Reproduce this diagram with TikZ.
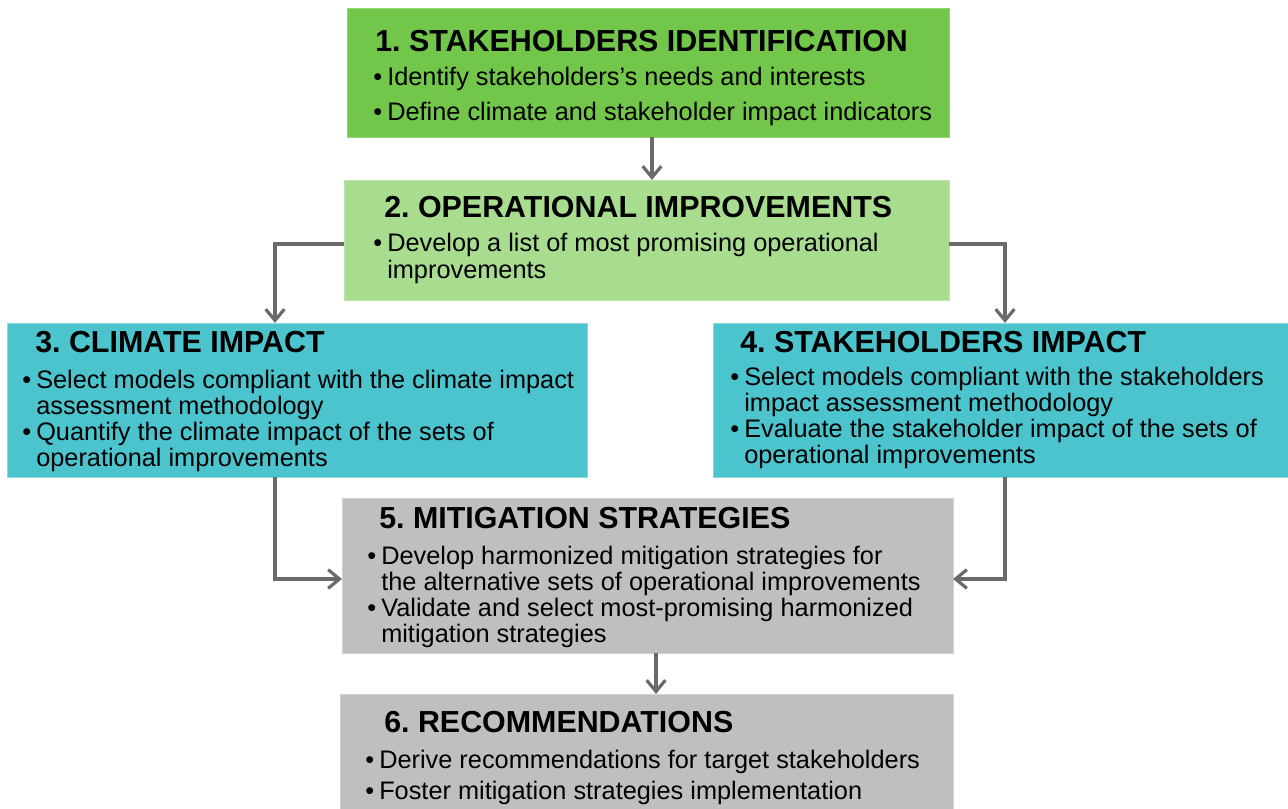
\documentclass[tikz,border=0pt]{standalone}
\usepackage{fontspec}
\setmainfont{Liberation Sans}
\usetikzlibrary{arrows.meta}
\definecolor{gA}{HTML}{72C74A}
\definecolor{gB}{HTML}{A8DD8F}
\definecolor{cy}{HTML}{4BC4CD}
\definecolor{gr}{HTML}{BFBFBF}
\definecolor{ar}{HTML}{6A6A6A}
\newcommand{\bul}{\makebox[10.5pt][l]{\textbullet}}
\newcommand{\ind}{\hspace*{10.5pt}}
\begin{document}
\frenchspacing
\begin{tikzpicture}[x=0.75pt,y=-0.75pt,
  ttl/.style={anchor=base west,inner sep=0,font=\fontsize{22.8}{24}\selectfont\bfseries},
  bdy/.style={anchor=base west,inner sep=0,font=\fontsize{19}{20}\selectfont},
  boxframe/.style={line width=0.6pt},
  conn/.style={draw=ar,line width=2.4pt,-{Straight Barb[length=8.5pt,width=14pt,line width=2.4pt]}}]
\useasboundingbox (0,0) rectangle (1288,809);
% boxes
\path[fill=gA,draw=gA!75!white,boxframe] (347,8) rectangle (949,137) node[midway] (b1) {};
\path[fill=gB,draw=gB!75!white,boxframe] (344,180) rectangle (949,300) node[midway] (b2) {};
\path[fill=cy,draw=cy!65!white,boxframe] (7,323) rectangle (587,477) node[midway] (b3) {};
\path[fill=cy,draw=cy!65!white,boxframe] (713,323) rectangle (1290,477) node[midway] (b4) {};
\path[fill=gr,draw=gr!70!white,boxframe] (342,498) rectangle (953,653) node[midway] (b5) {};
\path[fill=gr,draw=gr!70!white,boxframe] (340,694) rectangle (953,812) node[midway] (b6) {};
\coordinate (b1s) at (652,137);
\coordinate (b2n) at (652,180);
\coordinate (b2w) at (344,244);
\coordinate (b2e) at (949,244);
\coordinate (b3n) at (275,323);
\coordinate (b4n) at (1005,323);
\coordinate (b3s) at (275,477);
\coordinate (b4s) at (1005,477);
\coordinate (b5w) at (342,579);
\coordinate (b5e) at (953,579);
\coordinate (b5s) at (656,653);
\coordinate (b6n) at (656,694);
% texts
\node[ttl] (t1) at (375,52) {1. STAKEHOLDERS IDENTIFICATION};
\node[bdy] (t1a) at (373,86) {\bul Identify stakeholders’s needs and interests};
\node[bdy] (t1b) at (373,121) {\bul Define climate and stakeholder impact indicators};
\node[ttl] (t2) at (384,218) {2. OPERATIONAL IMPROVEMENTS};
\node[bdy] (t2a) at (373,252) {\bul Develop a list of most promising operational};
\node[bdy] (t2b) at (373,278) {\ind improvements};
\node[ttl] (t3) at (35,352) {3. CLIMATE IMPACT};
\node[bdy] (t3a) at (22,388) {\bul Select models compliant with the climate impact};
\node[bdy] (t3b) at (22,414) {\ind assessment methodology};
\node[bdy] (t3c) at (22,440) {\bul Quantify the climate impact of the sets of};
\node[bdy] (t3d) at (22,466) {\ind operational improvements};
\node[ttl] (t4) at (740,352) {4. STAKEHOLDERS IMPACT};
\node[bdy] (t4a) at (730,385) {\bul Select models compliant with the stakeholders};
\node[bdy] (t4b) at (730,411) {\ind impact assessment methodology};
\node[bdy] (t4c) at (730,437) {\bul Evaluate the stakeholder impact of the sets of};
\node[bdy] (t4d) at (730,463) {\ind operational improvements};
\node[ttl] (t5) at (379,528) {5. MITIGATION STRATEGIES};
\node[bdy] (t5a) at (367,564) {\bul Develop harmonized mitigation strategies for};
\node[bdy] (t5b) at (367,590) {\ind the alternative sets of operational improvements};
\node[bdy] (t5c) at (367,616) {\bul Validate and select most-promising harmonized};
\node[bdy] (t5d) at (367,642) {\ind mitigation strategies};
\node[ttl] (t6) at (384,732) {6. RECOMMENDATIONS};
\node[bdy] (t6a) at (365,768) {\bul Derive recommendations for target stakeholders};
\node[bdy] (t6b) at (365,799) {\bul Foster mitigation strategies implementation};
% connectors
\draw[conn] (b1s) -- (b2n);
\draw[conn] (b2w) -| (b3n);
\draw[conn] (b2e) -| (b4n);
\draw[conn] (b3s) |- (b5w);
\draw[conn] (b4s) |- (b5e);
\draw[conn] (b5s) -- (b6n);
\end{tikzpicture}
\end{document}
